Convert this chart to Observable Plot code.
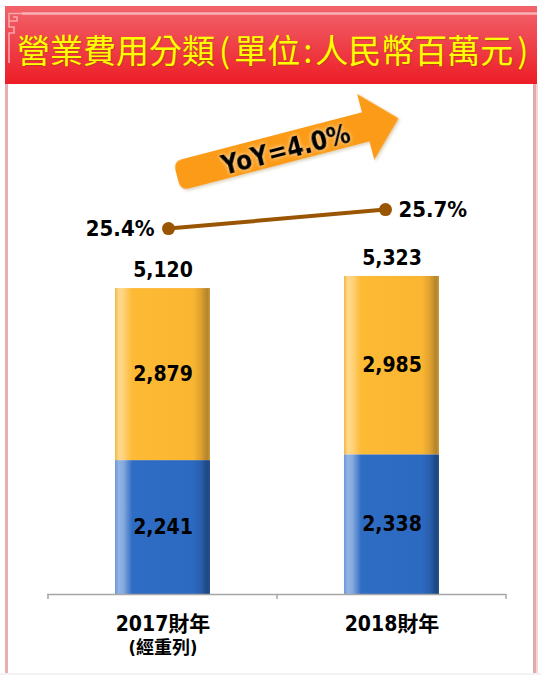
<!DOCTYPE html>
<html><head><meta charset="utf-8">
<script src="https://cdn.jsdelivr.net/npm/d3@7"></script>
<script src="https://cdn.jsdelivr.net/npm/@observablehq/plot@0.6"></script>
<style>
html,body{margin:0;padding:0;background:#fff;}
#page{position:relative;width:541px;height:675px;overflow:hidden;background:#fff;}
#header{position:absolute;left:5px;top:6px;width:532px;height:78px;background:linear-gradient(#f2636c,#ec1d26);}
#title{position:absolute;left:12px;top:4px;line-height:78px;font-family:"Noto Sans CJK TC",sans-serif;font-size:33px;color:#ffff00;white-space:nowrap;text-shadow:1px 1px 1px rgba(160,70,0,0.55);}
#title .p{margin:0 4px;}
#title .c{margin:0 3px;}
.bl{position:absolute;left:5px;top:84px;width:3px;height:589px;background:#e6b0b2;}
.br{position:absolute;left:533px;top:84px;width:3px;height:589px;background:#e3a9ab;}
.br2{position:absolute;left:536px;top:84px;width:2px;height:589px;background:#f3d6d7;}
.bottom{position:absolute;left:0;top:673px;width:541px;height:2px;background:#f2f2f2;}
#chart,#pct{position:absolute;left:0;top:84px;}
#deco{position:absolute;left:0;top:0;}
</style>
</head><body>
<div id="page">
  <div id="header"><div id="title">營業費用分類<span class="p">(</span>單位<span class="c">:</span>人民幣百萬元<span class="p">)</span></div></div>
  <div class="bl"></div><div class="br"></div><div class="br2"></div><div class="bottom"></div>
  <svg width="0" height="0" style="position:absolute">
    <defs>
      <linearGradient id="gYellow" x1="0" x2="1" y1="0" y2="0">
        <stop offset="0" stop-color="#f3b547"/>
        <stop offset="0.04" stop-color="#ffd98c"/>
        <stop offset="0.09" stop-color="#ffd27a"/>
        <stop offset="0.18" stop-color="#fdba35"/>
        <stop offset="0.82" stop-color="#fbb631"/>
        <stop offset="0.90" stop-color="#e1a230"/>
        <stop offset="0.97" stop-color="#b3842b"/>
        <stop offset="1" stop-color="#c89a3a"/>
      </linearGradient>
      <linearGradient id="gBlue" x1="0" x2="1" y1="0" y2="0">
        <stop offset="0" stop-color="#6b97d6"/>
        <stop offset="0.04" stop-color="#93b4e3"/>
        <stop offset="0.09" stop-color="#86a9de"/>
        <stop offset="0.18" stop-color="#2f6dc4"/>
        <stop offset="0.82" stop-color="#2c69c0"/>
        <stop offset="0.90" stop-color="#2960ae"/>
        <stop offset="0.97" stop-color="#1d4784"/>
        <stop offset="1" stop-color="#284f8a"/>
      </linearGradient>
    </defs>
  </svg>
</div>
<script>
// ---- data ----
const years = ["2017財年", "2018財年"];
const subLabels = ["(經重列)", ""];
const seriesNames = ["下層費用", "上層費用"]; // bottom (blue), top (yellow)
const bottomValues = [2241, 2338];
const topValues = [2879, 2985];
const totals = [5120, 5323];
const ratioPct = [25.4, 25.7];

const rows = years.flatMap((y, i) => [
  {year: y, series: seriesNames[0], value: bottomValues[i]},
  {year: y, series: seriesNames[1], value: topValues[i]}
]);
const totalRows = years.map((y, i) => ({year: y, total: totals[i]}));
const pctRows = years.map((y, i) => ({year: y, pct: ratioPct[i]}));

const fmt = d3.format(",");
const numFont = '"DejaVu Sans Condensed","DejaVu Sans",sans-serif';
const catFontFam = '"DejaVu Sans Condensed","Noto Sans CJK TC",sans-serif';
const page = document.getElementById("page");

const chart = Plot.plot({
  width: 541, height: 590,
  marginLeft: 47, marginRight: 35, marginTop: 32, marginBottom: 80,
  x: {type: "band", domain: years, paddingInner: 0.586, paddingOuter: 0.293, axis: null},
  y: {domain: [0, 8000], axis: null},
  color: {type: "ordinal", domain: seriesNames, range: ["url(#gBlue)", "url(#gYellow)"]},
  style: {background: "transparent", overflow: "visible"},
  marks: [
    Plot.barY(rows, {x: "year", y: "value", fill: "series"}),
    Plot.text(rows, Plot.stackY({x: "year", y: "value", z: "series", text: d => fmt(d.value),
      fontFamily: numFont, fontWeight: "bold", fontSize: 21, fill: "black"})),
    Plot.text(totalRows, {x: "year", y: "total", dy: -18, text: d => fmt(d.total),
      fontFamily: numFont, fontWeight: "bold", fontSize: 21, fill: "black"}),
    Plot.ruleY([0], {stroke: "#a6a6a6", strokeWidth: 1.5}),
    Plot.text(years, {x: d => d, y: 0, dy: 30, text: d => d,
      fontFamily: catFontFam, fontWeight: "bold", fontSize: 21, fill: "black"}),
    Plot.text(subLabels, {x: (d, i) => years[i], y: 0, dy: 54, text: d => d,
      fontFamily: catFontFam, fontWeight: "bold", fontSize: 18, fill: "black"})
  ]
});
chart.id = "chart";
page.appendChild(chart);

// category boundary ticks from the band scale
{
  const xs = chart.scale("x");
  const bw = xs.bandwidth;
  const step = xs.step || bw / (1 - 0.586);
  const bounds = years.map(c => xs.apply(c) - (step - bw) / 2);
  bounds.push(bounds[bounds.length - 1] + step);
  const y0 = chart.scale("y").apply(0);
  d3.select(chart).append("g").selectAll("line").data(bounds).join("line")
    .attr("x1", d => d).attr("x2", d => d).attr("y1", y0).attr("y2", y0 + 5)
    .attr("stroke", "#a6a6a6").attr("stroke-width", 1.5);
}

// percentage line overlay
const pctChart = Plot.plot({
  width: 541, height: 590,
  marginLeft: 168, marginRight: 156, marginTop: 32, marginBottom: 80,
  x: {type: "point", domain: years, padding: 0, axis: null},
  y: {domain: [19.62, 27.17], axis: null},
  style: {background: "transparent", overflow: "visible"},
  marks: [
    Plot.line(pctRows, {x: "year", y: "pct", stroke: "#9a5502", strokeWidth: 4}),
    Plot.dot(pctRows, {x: "year", y: "pct", r: 6.5, fill: "#9a5502", stroke: "none"}),
    Plot.text(pctRows.slice(0, 1), {x: "year", y: "pct", text: d => d.pct.toFixed(1) + "%", textAnchor: "end", dx: -14,
      fontFamily: numFont, fontWeight: "bold", fontSize: 22, fill: "black"}),
    Plot.text(pctRows.slice(1), {x: "year", y: "pct", text: d => d.pct.toFixed(1) + "%", textAnchor: "start", dx: 13,
      fontFamily: numFont, fontWeight: "bold", fontSize: 22, fill: "black"})
  ]
});
pctChart.id = "pct";
page.appendChild(pctChart);

// decoration: header ornament + YoY arrow
const yoy = d3.format(".1%")(totals[1] / totals[0] - 1);
const deco = d3.select(page).append("svg").attr("id", "deco").attr("width", 541).attr("height", 675)
  .style("pointer-events", "none");
const orn = "#f7b0b5";
deco.append("line").attr("x1", 22).attr("x2", 537).attr("y1", 13.5).attr("y2", 13.5)
  .attr("stroke", orn).attr("stroke-width", 2.5);
deco.append("path").attr("d", "M22,13.5 H9 V21 H17 V17 H13 M9,21 V27 H14 V33 H9 V63")
  .attr("fill", "none").attr("stroke", orn).attr("stroke-width", 1.6).attr("opacity", 0.9);

const g = deco.append("g").attr("transform", "translate(177,176) rotate(-14.6)");
g.append("path")
  .attr("d", "M9,-15 L195,-15 L195,-34 L229,0 L195,34 L195,15 L9,15 Q0,15 0,6 L0,-6 Q0,-15 9,-15 Z")
  .attr("fill", "#fb9b17")
  .style("filter", "drop-shadow(1px 2px 1.5px rgba(120,80,0,0.25))");
g.append("text").attr("x", 112).attr("y", 3).attr("text-anchor", "middle").attr("dominant-baseline", "middle")
  .attr("font-family", numFont).attr("font-weight", "bold").attr("font-size", 26).attr("fill", "black")
  .style("filter", "drop-shadow(0 0 2px rgba(255,255,255,0.9))")
  .text("YoY=" + yoy);
</script>
</body></html>
